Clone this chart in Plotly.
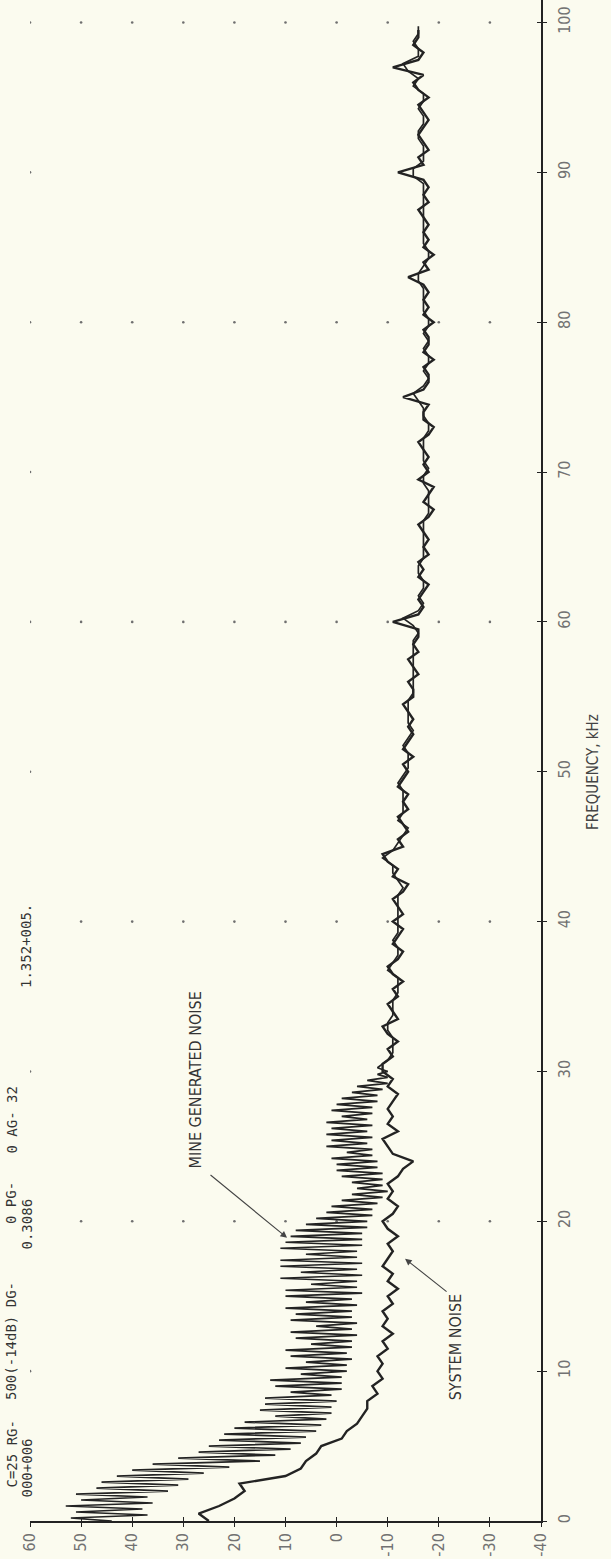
import numpy as np
import plotly.graph_objects as go

# ---------------------------------------------------------------- data
DB_TICKS = [60, 50, 40, 30, 20, 10, 0, -10, -20, -30, -40]
KHZ_TICKS = [0, 10, 20, 30, 40, 50, 60, 70, 80, 90, 100]
KHZ_LABELS = ["0", "10", "20", "30", "40", "50", "60", "70", "80", "90", "100"]

# Mine generated noise, 0 - 30 kHz every 0.2 kHz (harmonic comb, dB)
MINE_COMB_DB = [
    44, 52, 37, 51, 38, 53, 36, 50, 37, 51,
    33, 47, 31, 46, 29, 43, 26, 40, 21, 36,
    15, 31, 12, 27, 9, 25, 7, 23, 6, 22,
    4, 20, 3, 18, 2, 12, 1, 15, 1, 14,
    0, 14, 1, 9, -1, 12, -1, 13, -1, 7,
    -2, 10, -2, 6, -3, 9, -2, 10, -3, 5,
    -3, 8, -4, 9, -3, 4, -4, 9, -3, 8,
    -3, 10, -4, 6, -3, 10, -5, 10, -4, 5,
    -4, 11, -5, 7, -4, 11, -5, 11, -4, 6,
    -4, 11, -5, 10, -5, 9, -5, 8, -6, 6,
    -6, 4, -7, 2, -7, 1, -8, -1, -9, -3,
    -10, -4, -9, -3, -9, -1, -9, 0, -8, 0,
    -8, 1, -7, -2, -7, 2, -6, 1, -7, 2,
    -6, 1, -7, 2, -6, -1, -7, 1, -7, 0,
    -8, -1, -8, -3, -9, -4, -10, -6, -10, -8,
    -10,
]
# Mine generated noise, 30.25 - 99.75 kHz every 0.5 kHz (dB)
MINE_TAIL_DB = [
    -8, -10, -11, -11, -11, -10, -10, -11, -11, -11,
    -12, -12, -12, -10, -11, -12, -12, -11, -12, -12,
    -12, -12, -12, -12, -13, -12, -11, -11, -9, -11,
    -12, -13, -14, -12, -13, -13, -13, -13, -12, -13,
    -14, -14, -14, -13, -14, -15, -14, -14, -14, -14,
    -15, -15, -15, -15, -15, -15, -15, -15, -16, -15,
    -13, -16, -17, -16, -17, -17, -16, -16, -17, -17,
    -17, -17, -17, -17, -18, -18, -18, -18, -17, -17,
    -18, -17, -17, -17, -17, -18, -18, -17, -17, -16,
    -15, -17, -18, -17, -18, -18, -17, -18, -17, -18,
    -18, -17, -17, -17, -17, -16, -16, -17, -18, -18,
    -17, -17, -17, -17, -17, -17, -17, -17, -17, -15,
    -15, -17, -17, -17, -16, -16, -17, -17, -16, -17,
    -17, -15, -16, -14, -13, -16, -16, -15, -16, -16,
]
# System noise, 0 - 30 kHz every 0.5 kHz (dB)
SYS_LOW_DB = [
    25, 27, 23, 20, 18, 19, 10, 7, 6, 4,
    3, -1, -2, -4, -5, -6, -6, -8, -7, -9,
    -8, -9, -8, -10, -9, -11, -9, -10, -9, -11,
    -10, -12, -10, -11, -9, -10, -11, -10, -12, -10,
    -9, -11, -12, -10, -11, -10, -12, -13, -15, -11,
    -10, -9, -12, -10, -11, -10, -11, -12, -10, -11,
    -9,
]
# System noise, 30.5 - 99.5 kHz every 0.5 kHz (dB)
SYS_HIGH_DB = [
    -9, -11, -10, -12, -10, -9, -12, -11, -10, -12,
    -11, -13, -11, -10, -12, -13, -11, -12, -13, -11,
    -13, -12, -11, -13, -14, -11, -12, -10, -9, -13,
    -12, -14, -13, -12, -14, -13, -14, -12, -13, -14,
    -13, -15, -13, -14, -15, -14, -15, -14, -13, -15,
    -15, -14, -16, -15, -14, -16, -15, -16, -16, -11,
    -16, -17, -16, -17, -18, -16, -17, -16, -18, -17,
    -18, -17, -16, -18, -19, -17, -18, -19, -16, -18,
    -17, -18, -17, -16, -18, -19, -17, -17, -18, -13,
    -17, -18, -18, -17, -19, -17, -18, -18, -17, -19,
    -17, -18, -17, -18, -17, -14, -18, -17, -19, -17,
    -18, -17, -18, -17, -16, -18, -17, -18, -17, -12,
    -17, -16, -18, -17, -16, -17, -18, -17, -16, -18,
    -16, -15, -17, -11, -16, -17, -15, -16, -16,
]

# ---------------------------------------------------------------- frequency sampling
mine_khz = np.concatenate([
    np.linspace(0.0, 30.0, len(MINE_COMB_DB)),
    np.linspace(30.25, 99.75, len(MINE_TAIL_DB)),
])
mine_db = MINE_COMB_DB + MINE_TAIL_DB
sys_khz = np.concatenate([
    np.linspace(0.0, 30.0, len(SYS_LOW_DB)),
    np.linspace(30.5, 99.5, len(SYS_HIGH_DB)),
])
sys_db = SYS_LOW_DB + SYS_HIGH_DB

# ---------------------------------------------------------------- page geometry
W, H = 611, 1559
L, R, T, B = 30, 70, 0, 38
PW, PH = W - L - R, H - T - B


def paper(xp, yp):
    """Pixel position on the page -> paper coordinates."""
    return (xp - L) / PW, (H - B - yp) / PH


BG = "#fbfbef"
INK = "#232323"
GRAY = "#727272"
NARROW = "DejaVu Sans Condensed, DejaVu Sans, sans-serif"
MONO = "DejaVu Sans Mono, Liberation Mono, monospace"

fig = go.Figure()

# dotted grid: full rows every 20 kHz, a single dot at the 60 dB column otherwise
gx, gy = [], []
for f in KHZ_TICKS[1:]:
    cols = DB_TICKS[:-1] if f % 20 == 0 else DB_TICKS[:1]
    for d in cols:
        gx.append(d)
        gy.append(f)
fig.add_trace(go.Scatter(
    x=gx, y=gy, mode="markers",
    marker=dict(size=2.6, color="#6f6f6f"),
    hoverinfo="skip", showlegend=False,
))

fig.add_trace(go.Scatter(
    x=sys_db, y=sys_khz, mode="lines", name="SYSTEM NOISE",
    line=dict(color=INK, width=2.4), showlegend=False,
))
fig.add_trace(go.Scatter(
    x=mine_db, y=mine_khz, mode="lines", name="MINE GENERATED NOISE",
    line=dict(color=INK, width=1.7), showlegend=False,
))

axis_common = dict(
    showgrid=False, zeroline=False, showline=True,
    linecolor=INK, linewidth=1.6,
    ticks="outside", ticklen=4, tickwidth=1.2, tickcolor=INK,
    tickangle=-90,
    tickfont=dict(family=NARROW, size=16, color=GRAY),
)

fig.update_layout(
    width=W, height=H,
    margin=dict(l=L, r=R, t=T, b=B, pad=0),
    paper_bgcolor=BG, plot_bgcolor=BG,
    showlegend=False,
    xaxis=dict(range=[60, -40], tickvals=DB_TICKS,
               ticktext=[str(v) for v in DB_TICKS], **axis_common),
    yaxis=dict(range=[0, 101.5], side="right", tickvals=KHZ_TICKS,
               ticktext=KHZ_LABELS, ticklabelstandoff=4, **axis_common),
    # inner halves of the cross-shaped tick marks
    xaxis2=dict(overlaying="x", matches="x", anchor="y", side="bottom",
                tickvals=DB_TICKS, ticks="inside", ticklen=4, tickwidth=1.2,
                tickcolor=INK, showticklabels=False, showline=False,
                showgrid=False, zeroline=False),
    yaxis2=dict(overlaying="y", matches="y", anchor="x", side="right",
                tickvals=KHZ_TICKS, ticks="inside", ticklen=4, tickwidth=1.2,
                tickcolor=INK, showticklabels=False, showline=False,
                showgrid=False, zeroline=False),
)
fig.add_trace(go.Scatter(x=[None], y=[None], xaxis="x2", yaxis="y2",
                         showlegend=False, hoverinfo="skip"))

annotations = []

# axis title
tx, ty = paper(593, 772)
annotations.append(dict(
    text="FREQUENCY, kHz", x=tx, y=ty, xref="paper", yref="paper",
    xanchor="center", yanchor="middle", textangle=-90, showarrow=False,
    font=dict(family=NARROW, size=15, color="#444444"),
))

# curve labels and their pointers
annotations.append(dict(
    text="MINE GENERATED NOISE", x=27.7, y=29.4, xref="x", yref="y",
    xanchor="center", yanchor="middle", textangle=-90, showarrow=False,
    font=dict(family=NARROW, size=16, color="#333333"),
))
annotations.append(dict(
    text="", x=9.7, y=18.9, xref="x", yref="y",
    ax=-78, ay=-64, axref="pixel", ayref="pixel",
    showarrow=True, arrowhead=2, arrowsize=1.2, arrowwidth=1.1,
    arrowcolor="#444444",
))
annotations.append(dict(
    text="SYSTEM NOISE", x=-23.2, y=11.6, xref="x", yref="y",
    xanchor="center", yanchor="middle", textangle=-90, showarrow=False,
    font=dict(family=NARROW, size=16, color="#333333"),
))
annotations.append(dict(
    text="", x=-13.4, y=17.5, xref="x", yref="y",
    ax=43, ay=34, axref="pixel", ayref="pixel",
    showarrow=True, arrowhead=2, arrowsize=1.2, arrowwidth=1.1,
    arrowcolor="#444444",
))

# analyser settings printed along the left edge
header = [
    ("C=25 RG-", 11, 1490),
    ("500(-14dB) DG-", 11, 1402),
    ("0 PG-", 11, 1226),
    ("0 AG- 32", 11, 1156),
    ("000+006", 26, 1500),
    ("0.3086", 26, 1252),
    ("1.352+005.", 26, 990),
]
for txt, xp, yp in header:
    hx, hy = paper(xp, yp)
    annotations.append(dict(
        text=txt, x=hx, y=hy, xref="paper", yref="paper",
        xanchor="center", yanchor="bottom", textangle=-90, showarrow=False,
        font=dict(family=MONO, size=14, color="#333333"),
    ))

fig.update_layout(annotations=annotations)

fig.write_html("out.html")
